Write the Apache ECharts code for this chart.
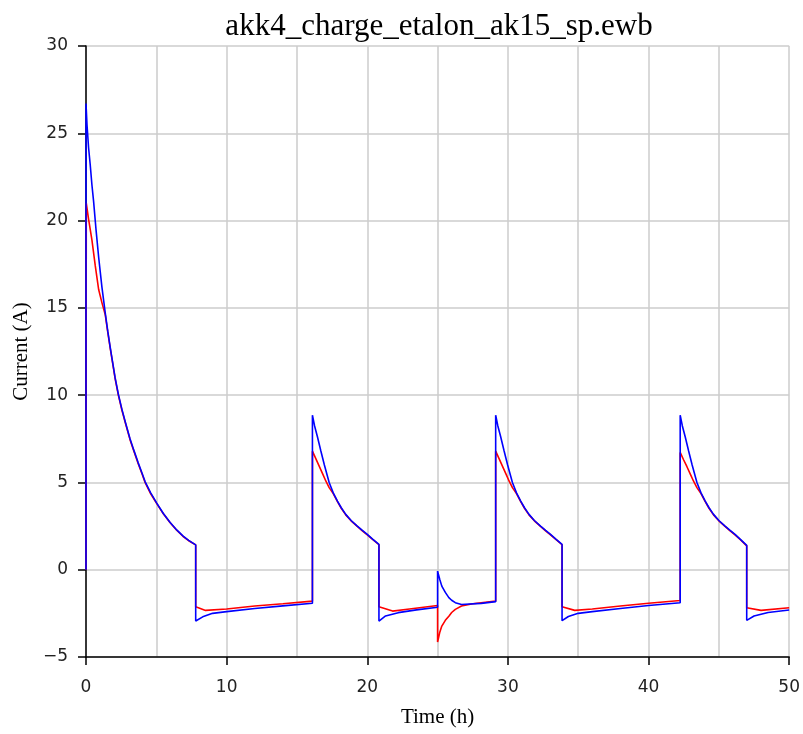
<!DOCTYPE html>
<html>
<head>
<meta charset="utf-8">
<script src="https://cdn.jsdelivr.net/npm/echarts@6/dist/echarts.min.js"></script>
<style>
  html, body { margin: 0; padding: 0; background: #fff; }
  #chart { width: 803px; height: 734px; }
</style>
</head>
<body>
<div id="chart"></div>
<script>
var chartTitle = 'akk4_charge_etalon_ak15_sp.ewb';
var xName = 'Time (h)';
var yName = 'Current (A)';

// [time h, current A]
var blueCurrent = [
  [0, 0], [0, 26.7], [0.07, 25.5], [0.18, 24.2], [0.3, 23.2], [0.42, 22.05], [0.54, 21.1],
  [0.71, 19.5], [0.9, 17.9], [1.13, 16.2], [1.37, 14.7], [1.55, 13.65], [1.72, 12.75],
  [1.9, 11.85], [2.07, 11.0], [2.3, 10.05], [2.55, 9.2], [2.8, 8.45], [3.13, 7.5],
  [3.4, 6.85], [3.7, 6.15], [4.0, 5.5], [4.2, 5.05], [4.6, 4.4], [5.02, 3.83],
  [5.5, 3.22], [5.97, 2.72], [6.45, 2.28], [6.91, 1.92], [7.3, 1.68], [7.8, 1.42],
  [7.8, -2.94], [8.3, -2.7], [9, -2.5], [10, -2.4], [12, -2.22], [14, -2.07], [16.1, -1.92],
  [16.1, 8.85], [16.25, 8.25], [16.46, 7.6], [16.7, 6.8], [16.95, 6.0], [17.29, 5.0],
  [17.58, 4.4], [17.88, 3.93], [18.15, 3.55], [18.47, 3.17], [18.85, 2.82], [19.29, 2.5],
  [19.65, 2.25], [20.0, 2.02], [20.4, 1.74], [20.83, 1.45],
  [20.83, -2.94], [21.3, -2.65], [22.2, -2.46], [23.5, -2.3], [25, -2.15],
  [25, -0.08], [25.15, -0.55], [25.3, -0.94], [25.55, -1.3], [25.8, -1.6], [26.0, -1.75],
  [26.26, -1.89], [26.7, -1.99], [28.1, -1.93], [29.13, -1.83],
  [29.13, 8.85], [29.28, 8.25], [29.49, 7.6], [29.73, 6.8], [29.98, 6.0], [30.32, 5.0],
  [30.61, 4.4], [30.91, 3.93], [31.18, 3.55], [31.5, 3.17], [31.88, 2.82], [32.32, 2.5],
  [32.68, 2.25], [33.03, 2.02], [33.43, 1.74], [33.85, 1.45],
  [33.85, -2.92], [34.3, -2.68], [35, -2.5], [36, -2.4], [38, -2.22], [40, -2.05], [42.25, -1.89],
  [42.25, 8.85], [42.4, 8.25], [42.61, 7.6], [42.85, 6.8], [43.1, 6.0], [43.44, 5.0],
  [43.73, 4.4], [44.03, 3.93], [44.3, 3.55], [44.62, 3.17], [45.0, 2.82], [45.44, 2.5],
  [45.8, 2.25], [46.15, 2.02], [46.55, 1.72], [46.98, 1.39],
  [46.98, -2.9], [47.5, -2.65], [48.5, -2.45], [50, -2.31]
];

var redCurrent = [
  [0, 0], [0.02, 21.0], [0.1, 20.9], [0.18, 20.1], [0.42, 18.9], [0.66, 17.4],
  [0.9, 16.05], [1.13, 15.3], [1.37, 14.6], [1.55, 13.6],
  [1.72, 12.7], [1.9, 11.8], [2.07, 10.95], [2.3, 10.0], [2.55, 9.15], [2.8, 8.4], [3.13, 7.45],
  [3.4, 6.8], [3.7, 6.1], [4.0, 5.45], [4.2, 5.0], [4.6, 4.35], [5.02, 3.8],
  [5.5, 3.2], [5.97, 2.7], [6.45, 2.26], [6.91, 1.9], [7.3, 1.66], [7.8, 1.42],
  [7.8, -2.12], [8.5, -2.33], [10, -2.25], [12, -2.08], [14, -1.95], [16.1, -1.8],
  [16.1, 6.79], [16.34, 6.36], [16.58, 5.93], [16.82, 5.5], [17.06, 5.07], [17.29, 4.7],
  [17.58, 4.36], [17.88, 3.9], [18.15, 3.52], [18.47, 3.14], [18.85, 2.8], [19.29, 2.48],
  [19.65, 2.23], [20.0, 2.0], [20.4, 1.72], [20.83, 1.43],
  [20.83, -2.12], [21.8, -2.37], [23, -2.25], [25, -2.05],
  [25, -4.14], [25.15, -3.6], [25.3, -3.23], [25.55, -2.9], [25.8, -2.66], [26.0, -2.45],
  [26.26, -2.27], [26.7, -2.08], [27.5, -1.95], [29.13, -1.8],
  [29.13, 6.79], [29.37, 6.36], [29.61, 5.93], [29.85, 5.5], [30.09, 5.07], [30.32, 4.7],
  [30.61, 4.36], [30.91, 3.9], [31.18, 3.52], [31.5, 3.14], [31.88, 2.8], [32.32, 2.48],
  [32.68, 2.23], [33.03, 2.0], [33.43, 1.72], [33.85, 1.43],
  [33.85, -2.12], [34.75, -2.33], [36, -2.25], [38, -2.08], [40, -1.92], [42.25, -1.76],
  [42.25, 6.72], [42.49, 6.3], [42.73, 5.9], [42.97, 5.48], [43.2, 5.07], [43.44, 4.7],
  [43.73, 4.36], [44.03, 3.9], [44.3, 3.52], [44.62, 3.14], [45.0, 2.8], [45.44, 2.48],
  [45.8, 2.23], [46.15, 2.0], [46.55, 1.7], [46.98, 1.37],
  [46.98, -2.18], [48, -2.33], [50, -2.18]
];

var chart = echarts.init(document.getElementById('chart'));

var gridLine = { show: true, lineStyle: { color: '#cccccc', width: 1.5 } };
function tickText(v) { return String(v).replace('-', '\u2212'); }

var option = {
  animation: false,
  backgroundColor: '#fff',
  title: {
    text: chartTitle,
    left: 434,
    top: 6,
    textAlign: 'center',
    textStyle: { fontFamily: 'Liberation Serif', fontSize: 31, fontWeight: 'normal', color: '#000' }
  },
  grid: { left: 86, right: 11, top: 46, bottom: 77 },
  xAxis: {
    type: 'value',
    min: 0, max: 50, interval: 10,
    name: xName,
    nameLocation: 'middle',
    nameGap: 50,
    nameTextStyle: { fontFamily: 'Liberation Serif', fontSize: 21, color: '#000' },
    axisLine: { onZero: false, lineStyle: { color: '#000', width: 1.5 } },
    axisTick: { show: true, length: 8, lineStyle: { color: '#000', width: 1.5 } },
    axisLabel: { margin: 22, fontFamily: 'DejaVu Sans', fontSize: 17, color: '#222', formatter: tickText },
    splitLine: gridLine,
    minorTick: { show: false, splitNumber: 2 },
    minorSplitLine: gridLine
  },
  yAxis: {
    type: 'value',
    min: -5, max: 30, interval: 5,
    name: yName,
    nameLocation: 'middle',
    nameGap: 52,
    nameTextStyle: { fontFamily: 'Liberation Serif', fontSize: 21, color: '#000' },
    axisLine: { show: true, lineStyle: { color: '#000', width: 1.5 } },
    axisTick: { show: true, length: 8, lineStyle: { color: '#000', width: 1.5 } },
    axisLabel: { margin: 18, fontFamily: 'DejaVu Sans', fontSize: 17, color: '#222', formatter: tickText },
    splitLine: gridLine
  },
  series: [
    {
      name: 'red', type: 'line', data: redCurrent, showSymbol: false,
      lineStyle: { color: '#ff0000', width: 1.6 }, itemStyle: { color: '#ff0000' }
    },
    {
      name: 'blue', type: 'line', data: blueCurrent, showSymbol: false,
      lineStyle: { color: '#0000ff', width: 1.6 }, itemStyle: { color: '#0000ff' }
    }
  ]
};

chart.setOption(option);
</script>
</body>
</html>
